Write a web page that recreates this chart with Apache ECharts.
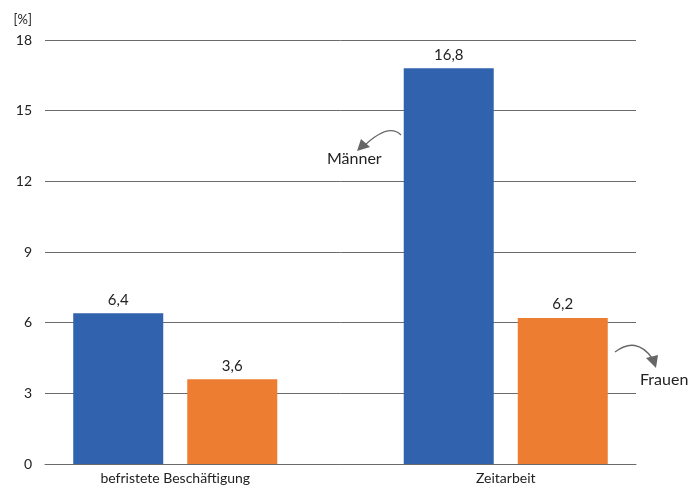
<!DOCTYPE html>
<html>
<head>
<meta charset="utf-8">
<script src="https://cdn.jsdelivr.net/npm/echarts@6/dist/echarts.min.js"></script>
<style>
  html, body { margin: 0; padding: 0; background: #fff; }
  #chart { width: 694px; height: 488px; }
</style>
</head>
<body>
<div id="chart"></div>
<script>
// Daten
const categories = ['befristete Beschäftigung', 'Zeitarbeit'];
const maenner = [6.4, 16.8];
const frauen = [3.6, 6.2];
const yTicks = { min: 0, max: 18, interval: 3 };

const FONT = 'Lato, "Noto Sans", sans-serif';
const lineColor = '#6b6b6b';
const fmt = v => String(v.value).replace('.', ',');

const chart = echarts.init(document.getElementById('chart'), null, { renderer: 'canvas' });

const option = {
  animation: false,
  textStyle: { fontFamily: FONT },
  grid: [
    // Gitterlinien + Achse
    { left: 45, right: 58, top: 40, bottom: 24 },
    // Balken
    { left: 10, right: 23, top: 40, bottom: 24 }
  ],
  xAxis: [
    {
      gridIndex: 0, type: 'category', data: categories,
      axisLine: { show: true, lineStyle: { color: lineColor, width: 1 } },
      axisTick: { show: false }, axisLabel: { show: false }
    },
    {
      gridIndex: 1, type: 'category', data: categories,
      axisLine: { show: false }, axisTick: { show: false },
      axisLabel: { color: '#222', fontSize: 14, margin: 7, fontFamily: FONT }
    }
  ],
  yAxis: [
    {
      gridIndex: 0, type: 'value', min: yTicks.min, max: yTicks.max, interval: yTicks.interval,
      name: '[%]', nameLocation: 'end', nameGap: 14,
      nameTextStyle: { color: '#222', fontSize: 13, align: 'right', padding: [0, 13, 0, 0], fontFamily: FONT },
      axisLine: { show: false }, axisTick: { show: false },
      axisLabel: { color: '#222', fontSize: 14, margin: 13, fontFamily: FONT },
      splitLine: { lineStyle: { color: lineColor, width: 1 } }
    },
    {
      gridIndex: 1, type: 'value', min: yTicks.min, max: yTicks.max, interval: yTicks.interval,
      show: false, splitLine: { show: false }
    }
  ],
  series: [
    {
      name: 'Männer', type: 'bar', xAxisIndex: 1, yAxisIndex: 1,
      data: maenner, barWidth: 90, barGap: '26.7%',
      itemStyle: { color: '#3062ae' },
      label: { show: true, position: 'top', distance: 6, color: '#222', fontSize: 15, formatter: fmt, fontFamily: FONT }
    },
    {
      name: 'Frauen', type: 'bar', xAxisIndex: 1, yAxisIndex: 1,
      data: frauen, barWidth: 90,
      itemStyle: { color: '#ed7d31' },
      label: { show: true, position: 'top', distance: 6, color: '#222', fontSize: 15, formatter: fmt, fontFamily: FONT }
    }
  ],
  graphic: [
    // Männer-Beschriftung mit Pfeil
    {
      type: 'bezierCurve',
      shape: { x1: 401, y1: 135, x2: 362, y2: 148, cpx1: 388, cpy1: 122 },
      style: { stroke: '#666', lineWidth: 1.3, fill: null }
    },
    {
      type: 'polygon',
      shape: { points: [[357, 151], [361, 139], [370, 147]] },
      style: { fill: '#666' }
    },
    {
      type: 'text', left: 327, top: 151,
      style: { text: 'Männer', fontSize: 16, fill: '#222', fontFamily: FONT }
    },
    // Frauen-Beschriftung mit Pfeil
    {
      type: 'bezierCurve',
      shape: { x1: 615, y1: 352, x2: 652, y2: 358, cpx1: 636, cpy1: 336 },
      style: { stroke: '#666', lineWidth: 1.3, fill: null }
    },
    {
      type: 'polygon',
      shape: { points: [[656, 368], [646, 358], [658, 355]] },
      style: { fill: '#666' }
    },
    {
      type: 'text', left: 640, top: 372,
      style: { text: 'Frauen', fontSize: 16, fill: '#222', fontFamily: FONT }
    }
  ]
};

chart.setOption(option);
</script>
</body>
</html>
